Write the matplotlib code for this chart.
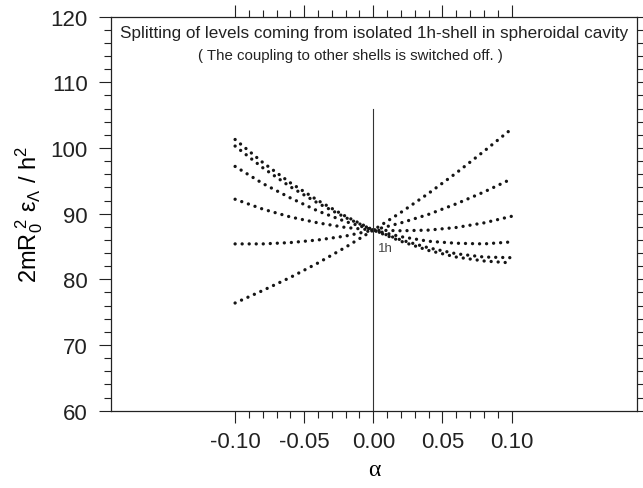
import numpy as np
import matplotlib
matplotlib.use("Agg")
import matplotlib.pyplot as plt
from matplotlib.ticker import FixedLocator

plt.rcParams['font.family'] = ['Liberation Sans', 'DejaVu Sans']
plt.rcParams['axes.unicode_minus'] = False
plt.rcParams['mathtext.fontset'] = 'custom'
plt.rcParams['mathtext.rm'] = 'Liberation Sans'
plt.rcParams['mathtext.it'] = 'Liberation Sans'

# deformation parameter alpha
alpha = [-0.10, -0.08, -0.06, -0.04, -0.02, 0.00, 0.02, 0.04, 0.06, 0.08, 0.10]

# energies of the six split levels
level_a = [101.3, 97.8, 94.7, 92.0, 89.6, 87.5, 85.8, 84.4, 83.4, 82.8, 82.5]
level_b = [100.3, 97.0, 94.1, 91.6, 89.4, 87.5, 86.0, 84.8, 83.9, 83.4, 83.3]
level_c = [97.2, 94.6, 92.4, 90.4, 88.8, 87.5, 86.5, 85.8, 85.5, 85.4, 85.7]
level_d = [92.2, 90.7, 89.5, 88.6, 87.9, 87.5, 87.4, 87.5, 87.9, 88.6, 89.6]
level_e = [85.4, 85.4, 85.6, 86.0, 86.6, 87.5, 88.6, 89.9, 91.5, 93.3, 95.3]
level_f = [76.4, 78.3, 80.3, 82.5, 84.9, 87.5, 90.2, 93.1, 96.2, 99.5, 102.9]
levels = [level_a, level_b, level_c, level_d, level_e, level_f]

x_major = [-0.10, -0.05, 0.00, 0.05, 0.10]
x_labels = ['-0.10', '-0.05', '0.00', '0.05', '0.10']
y_major = [60, 70, 80, 90, 100, 110, 120]

fig = plt.figure(figsize=(6.43, 4.89), dpi=100)
ax = fig.add_axes([0.1722, 0.1581, 0.8189, 0.8057])

for lv in levels:
    ax.plot(alpha, lv, color='#151515', lw=2.4, linestyle=(0, (0.01, 2.1)),
            dash_capstyle='round', solid_capstyle='round')

ax.plot([0, 0], [60, 106], color='#333333', lw=0.8)
ax.text(0.003, 84.8, '1h', fontsize=9.5, color='#444444', ha='left', va='center')

ax.set_xlim(-0.19, 0.191)
ax.set_ylim(60, 120)

ax.xaxis.set_major_locator(FixedLocator(x_major))
ax.set_xticklabels(x_labels)
minors_x = [round(v, 2) for v in np.arange(-0.10, 0.1001, 0.01)]
ax.xaxis.set_minor_locator(FixedLocator(minors_x))
ax.yaxis.set_major_locator(FixedLocator(y_major))
ax.yaxis.set_minor_locator(FixedLocator(list(range(60, 121, 2))))

ax.tick_params(which='both', direction='out', top=True, right=True,
               width=0.8, colors='#222222', labelcolor='#222222')
ax.tick_params(which='major', length=8.5, labelsize=16, pad=6)
ax.tick_params(which='minor', length=5)
ax.tick_params(axis='y', which='major', pad=8)

for sp in ax.spines.values():
    sp.set_linewidth(0.9)
    sp.set_color('#222222')

ax.set_xlabel('α', family=['Liberation Serif'], fontsize=17, labelpad=5)
ax.set_ylabel(r'$\mathregular{2mR_0^{\ 2}\ \epsilon_\Lambda\ /\ h^2}$', fontsize=17, labelpad=4)

ax.text(0.5, 0.961, 'Splitting of levels coming from isolated 1h-shell in spheroidal cavity',
        transform=ax.transAxes, ha='center', va='center', fontsize=12.3, color='#222222')
ax.text(0.4545, 0.903, '( The coupling to other shells is switched off. )',
        transform=ax.transAxes, ha='center', va='center', fontsize=10.8, color='#222222')

fig.savefig('out.png', dpi=100)
